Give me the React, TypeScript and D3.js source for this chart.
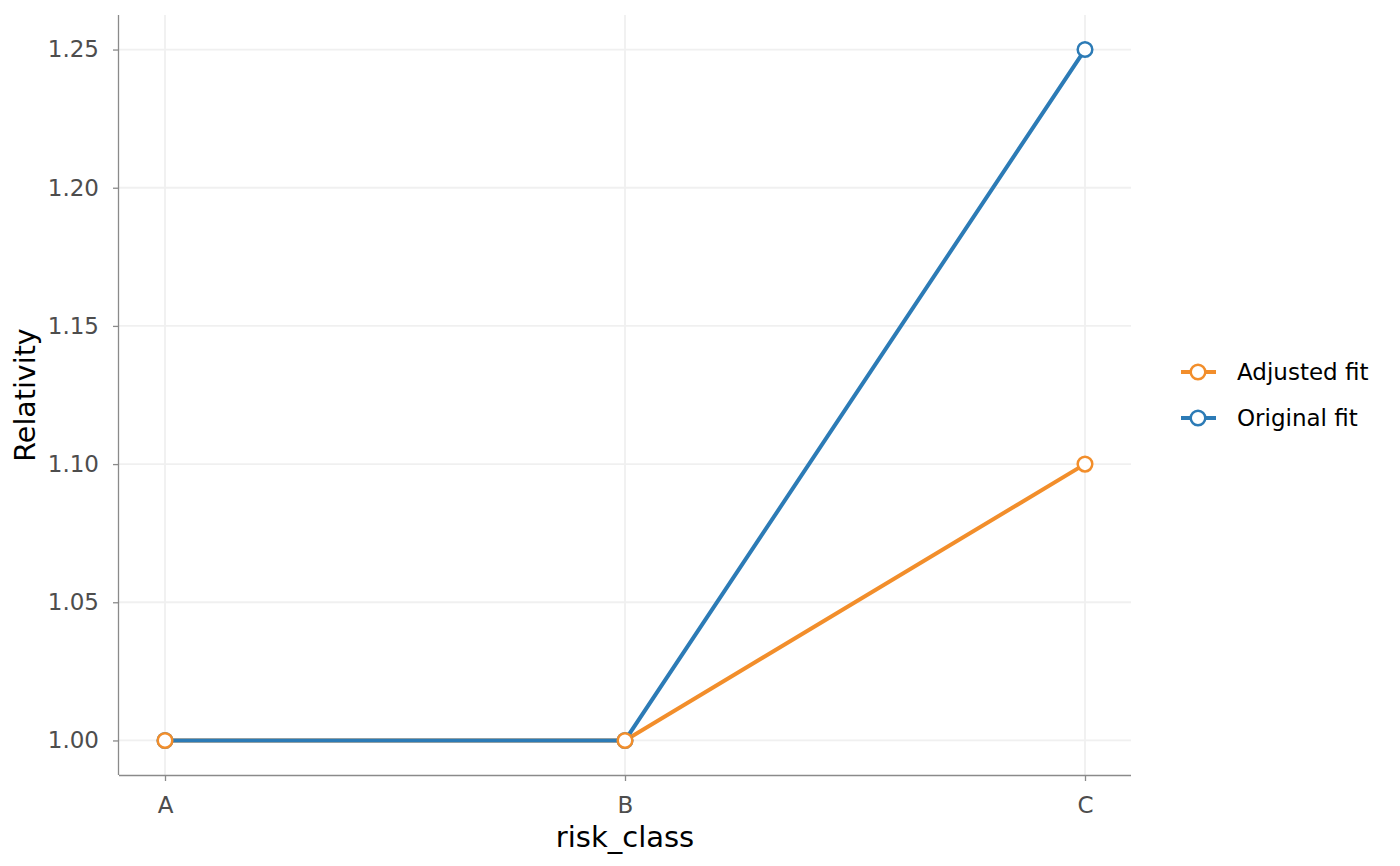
import { useEffect, useRef } from 'react'
import * as d3 from 'd3'

const categories = ['A', 'B', 'C']
const adjustedFit = [1.0, 1.0, 1.1]
const originalFit = [1.0, 1.0, 1.25]
const yTicks = [1.0, 1.05, 1.1, 1.15, 1.2, 1.25]

const series = [
  { name: 'Adjusted fit', values: adjustedFit, color: '#F28E2B' },
  { name: 'Original fit', values: originalFit, color: '#2C7BB6' },
]

export default function App() {
  const svgRef = useRef<SVGSVGElement>(null)

  useEffect(() => {
    if (!svgRef.current) return
    const svg = d3.select(svgRef.current)
    svg.selectAll('*').remove()

    const width = 1400
    const height = 866
    const margin = { top: 15, right: 269, bottom: 91, left: 119 }
    const w = width - margin.left - margin.right
    const h = height - margin.top - margin.bottom
    const font = 'DejaVu Sans, sans-serif'

    const g = svg.append('g').attr('transform', `translate(${margin.left},${margin.top})`)

    const x = d3.scalePoint<string>().domain(categories).range([0, w]).padding(0.1)
    const y = d3.scaleLinear().domain([0.9875, 1.2625]).range([h, 0])

    // grid
    g.selectAll('.hgrid')
      .data(yTicks)
      .enter()
      .append('line')
      .attr('x1', 0)
      .attr('x2', w)
      .attr('y1', (d) => y(d))
      .attr('y2', (d) => y(d))
      .attr('stroke', '#F0F0F0')
      .attr('stroke-width', 1.8)
    g.selectAll('.vgrid')
      .data(categories)
      .enter()
      .append('line')
      .attr('x1', (d) => x(d)!)
      .attr('x2', (d) => x(d)!)
      .attr('y1', 0)
      .attr('y2', h)
      .attr('stroke', '#F0F0F0')
      .attr('stroke-width', 1.8)

    // axes
    const xAxis = g
      .append('g')
      .attr('transform', `translate(0,${h})`)
      .call(d3.axisBottom(x).tickSize(6).tickPadding(16))
    const yAxis = g.append('g').call(
      d3
        .axisLeft(y)
        .tickValues(yTicks)
        .tickFormat((d) => d3.format('.2f')(d as number))
        .tickSize(6)
        .tickPadding(14)
    )
    ;[xAxis, yAxis].forEach((ax) => {
      ax.select('.domain').attr('stroke', '#8A8A8A').attr('stroke-width', 1.3)
      ax.selectAll('.tick line').attr('stroke', '#8A8A8A').attr('stroke-width', 1.3)
      ax.selectAll('.tick text')
        .attr('fill', '#4D4D4D')
        .attr('font-size', '23px')
        .attr('font-family', font)
    })
    xAxis.select('.domain').attr('d', `M0,0.5H${w}`)
    yAxis.select('.domain').attr('d', `M-0.5,0V${h}`)

    // lines
    const line = d3
      .line<number>()
      .x((_, i) => x(categories[i])!)
      .y((d) => y(d))
    series.forEach((s) => {
      g.append('path')
        .datum(s.values)
        .attr('fill', 'none')
        .attr('stroke', s.color)
        .attr('stroke-width', 4)
        .attr('d', line)
    })

    // points (original first so adjusted sits on top)
    ;[...series].reverse().forEach((s) => {
      g.selectAll(null)
        .data(s.values)
        .enter()
        .append('circle')
        .attr('cx', (_, i) => x(categories[i])!)
        .attr('cy', (d) => y(d))
        .attr('r', 7.3)
        .attr('fill', '#fff')
        .attr('stroke', s.color)
        .attr('stroke-width', 2.5)
    })

    // axis titles
    g.append('text')
      .attr('x', w / 2)
      .attr('y', h + 72)
      .attr('text-anchor', 'middle')
      .attr('font-family', font)
      .attr('font-size', '29px')
      .attr('fill', '#000')
      .text('risk_class')
    g.append('text')
      .attr('transform', `translate(${-84},${h / 2}) rotate(-90)`)
      .attr('text-anchor', 'middle')
      .attr('font-family', font)
      .attr('font-size', '28.5px')
      .attr('fill', '#000')
      .text('Relativity')

    // legend
    const legend = svg.append('g').attr('transform', `translate(1181,372)`)
    series.forEach((s, i) => {
      const row = legend.append('g').attr('transform', `translate(0,${i * 46})`)
      row.append('line')
        .attr('x1', 0)
        .attr('x2', 35)
        .attr('stroke', s.color)
        .attr('stroke-width', 4)
      row.append('circle')
        .attr('cx', 17)
        .attr('r', 7.3)
        .attr('fill', '#fff')
        .attr('stroke', s.color)
        .attr('stroke-width', 2.5)
      row.append('text')
        .attr('x', 56)
        .attr('dy', '0.35em')
        .attr('font-family', font)
        .attr('font-size', '23px')
        .attr('fill', '#000')
        .text(s.name)
    })
  }, [])

  return (
    <svg
      ref={svgRef}
      width={1400}
      height={866}
      style={{ position: 'absolute', left: 0, top: 0, background: '#fff' }}
    />
  )
}
